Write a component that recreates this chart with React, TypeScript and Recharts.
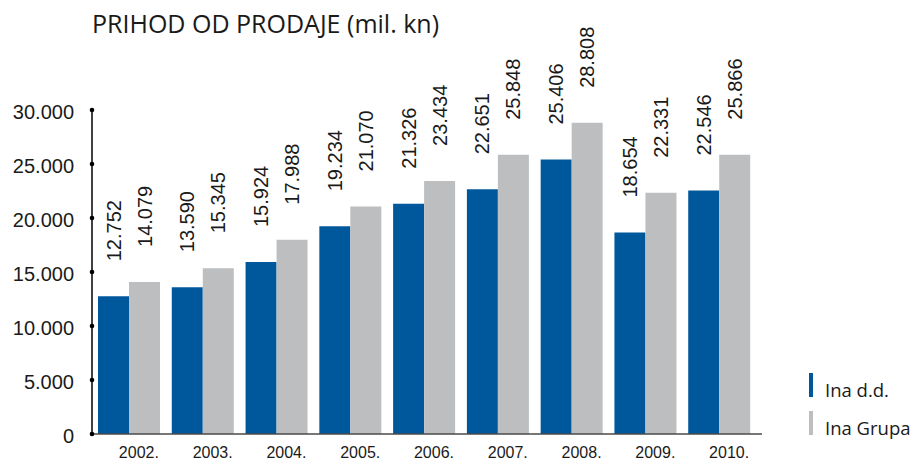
import React from 'react';
import { BarChart, Bar, XAxis, YAxis, LabelList } from 'recharts';

const title = 'PRIHOD OD PRODAJE (mil. kn)';
const years = ['2002.', '2003.', '2004.', '2005.', '2006.', '2007.', '2008.', '2009.', '2010.'];
const inaDD = [12752, 13590, 15924, 19234, 21326, 22651, 25406, 18654, 22546];
const inaGrupa = [14079, 15345, 17988, 21070, 23434, 25848, 28808, 22331, 25866];
const yTicks = [0, 5000, 10000, 15000, 20000, 25000, 30000];
const seriesNames = ['Ina d.d.', 'Ina Grupa'];
const seriesColors = ['#00589c', '#bdbec0'];

const data = years.map((y, i) => ({ year: y, dd: inaDD[i], grupa: inaGrupa[i] }));
const seriesKeys = ['dd', 'grupa'];

const fmt = (v: number) => {
  if (v === 0) return '0';
  const th = Math.floor(v / 1000);
  const rest = String(v % 1000).padStart(3, '0');
  return `${th}.${rest}`;
};

const NUM_FONT = '"Liberation Sans", Arial, sans-serif';
const TXT_FONT = '"Open Sans", sans-serif';

const YTick = (props: any) => {
  const { x, y, payload } = props;
  return (
    <g>
      <circle cx={x} cy={y} r={2.3} fill="#000" />
      <text x={x - 18} y={y} dy={9} textAnchor="end" fontSize={20} fontFamily={NUM_FONT} fill="#1a1a1a">
        {fmt(payload.value)}
      </text>
    </g>
  );
};

const XTick = (props: any) => {
  const { x, y, payload } = props;
  return (
    <text x={x + 10} y={y} dy={23.5} textAnchor="middle" fontSize={16} fontFamily={NUM_FONT} fill="#1a1a1a">
      {payload.value}
    </text>
  );
};

const EndDot = (props: any) => {
  const { x, y } = props;
  return <circle cx={x} cy={y} r={2.3} fill="#000" />;
};

const BarLabel = (props: any) => {
  const { x, y, width, value } = props;
  const cx = Number(x) + Number(width) / 2;
  const cy = Number(y) - 35;
  return (
    <text
      x={0}
      y={0}
      transform={`translate(${cx},${cy}) rotate(-90)`}
      textAnchor="start"
      dominantBaseline="central"
      fontSize={20}
      fontFamily={NUM_FONT}
      fill="#1a1a1a"
    >
      {fmt(Number(value))}
    </text>
  );
};

export default function App() {
  return (
    <div style={{ position: 'absolute', left: 0, top: 0, width: 914, height: 459, background: '#fff' }}>
      <BarChart
        width={914}
        height={459}
        data={data}
        margin={{ top: 110, right: 152, bottom: 0, left: 12 }}
        barCategoryGap={6}
        barGap={0}
      >
        <XAxis
          dataKey="year"
          height={25}
          tick={<XTick />}
          tickLine={false}
          tickSize={0}
          tickMargin={0}
          axisLine={{ stroke: '#4a4a4a', strokeWidth: 1.5 }}
          padding={{ left: 0, right: 6 }}
          interval={0}
        />
        <YAxis
          width={80}
          domain={[0, 30000]}
          ticks={yTicks}
          tick={<YTick />}
          tickLine={false}
          tickSize={0}
          tickMargin={0}
          axisLine={{ stroke: '#000', strokeWidth: 1.5 }}
          interval={0}
        />
        <YAxis
          yAxisId="end"
          orientation="right"
          width={0}
          domain={[0, 30000]}
          ticks={[0]}
          tick={<EndDot />}
          tickLine={false}
          tickSize={0}
          tickMargin={0}
          axisLine={false}
        />
        {seriesKeys.map((k, i) => (
          <Bar key={k} dataKey={k} name={seriesNames[i]} fill={seriesColors[i]} isAnimationActive={false}>
            <LabelList dataKey={k} content={<BarLabel />} />
          </Bar>
        ))}
      </BarChart>
      <svg width={914} height={459} style={{ position: 'absolute', left: 0, top: 0, pointerEvents: 'none' }}>
        <text x={92} y={33.3} fontSize={25} fontFamily={TXT_FONT} fill="#1a1a1a">
          {title}
        </text>
        {seriesNames.map((n, i) => (
          <g key={n}>
            <rect x={809} y={373 + i * 38} width={4} height={24} fill={seriesColors[i]} />
            <text x={825} y={396.5 + i * 38} fontSize={18.5} fontFamily={TXT_FONT} fill="#1a1a1a">
              {n}
            </text>
          </g>
        ))}
      </svg>
    </div>
  );
}
